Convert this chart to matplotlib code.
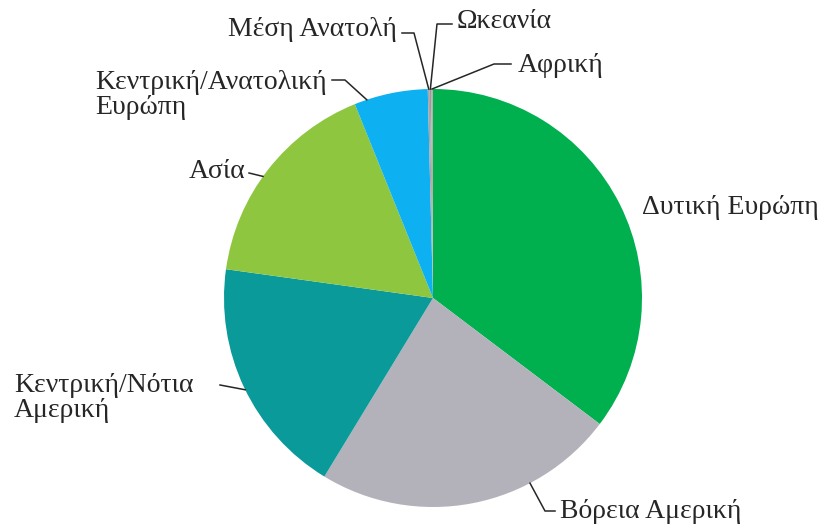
import numpy as np
import matplotlib.pyplot as plt

regions = ["Δυτική Ευρώπη", "Βόρεια Αμερική", "Κεντρική/Νότια\nΑμερική", "Ασία",
           "Κεντρική/Ανατολική\nΕυρώπη", "Μέση Ανατολή", "Ωκεανία", "Αφρική"]
shares = [35.3, 23.4, 18.5, 16.7, 5.7, 0.15, 0.1, 0.15]
colors = ["#00b04f", "#b3b2ba", "#0a9a9a", "#8fc640", "#0db0f0",
          "#a6a6a6", "#9a9a9a", "#b0b0b0"]

W, H = 830, 532
cx, cy, R = 433, 298, 209


def up(y):
    # pixel rows are counted from the top, the axes from the bottom
    return H - y


fig = plt.figure(figsize=(8.3, 5.32), dpi=100)
ax = fig.add_axes([0, 0, 1, 1])
wedges, _ = ax.pie(shares, colors=colors, startangle=90, counterclock=False,
                   center=(cx, up(cy)), radius=R, wedgeprops=dict(linewidth=0))
ax.set_xlim(0, W)
ax.set_ylim(0, H)
ax.set_aspect("equal")
ax.axis("off")

# label: text x, text y, alignment, leader knees (text side first), spot on the wedge edge
layout = [
    (642, 208, "left", [], None),
    (560, 511, "left", [(555, 511), (545, 511)], 0.70),
    (14, 398, "left", [(220, 385)], 0.51),
    (245, 172, "right", [(249, 173)], 0.54),
    (95, 95, "left", [(332, 80), (345, 80)], 0.83),
    (397, 30, "right", [(402, 33), (414, 33)], 0.5),
    (457, 21, "left", [(452, 24), (437, 24)], 0.5),
    (518, 65, "left", [(511, 64), (494, 64)], 0.5),
]

for w, name, (tx, ty, ha, knees, frac) in zip(wedges, regions, layout):
    ax.text(tx, up(ty), name, ha=ha, va="center", fontsize=20, color="#262626",
            family="Liberation Serif", linespacing=0.98)
    if frac is None:
        continue
    ang = np.radians(w.theta1 + frac * (w.theta2 - w.theta1))
    xs = [k[0] for k in knees] + [cx + R * np.cos(ang)]
    ys = [up(k[1]) for k in knees] + [up(cy) + R * np.sin(ang)]
    ax.plot(xs, ys, color="#262626", lw=1.1)

plt.savefig("out.png", dpi=100)
